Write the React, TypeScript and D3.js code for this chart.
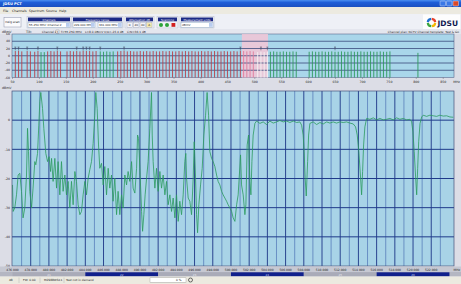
import * as d3 from "d3";

// detail trace (MHz, dBmV)
const traceMHz = [
  476.0, 476.07, 476.25, 476.44, 476.62, 476.8, 476.99, 477.16, 477.35, 477.54, 477.65, 477.76, 477.9,
  478.09, 478.26, 478.45, 478.56, 478.75, 478.89, 479.0, 479.11, 479.3, 479.44, 479.66, 479.85, 480.02,
  480.18, 480.29, 480.46, 480.65, 480.84, 481.01, 481.2, 481.38, 481.56, 481.75, 481.93, 482.11, 482.3,
  482.48, 482.66, 482.85, 483.03, 483.21, 483.4, 483.58, 483.76, 483.95, 484.13, 484.31, 484.49, 484.68,
  484.86, 485.04, 485.15, 485.3, 485.45, 485.59, 485.78, 485.96, 486.14, 486.33, 486.51, 486.69, 486.88,
  487.05, 487.24, 487.43, 487.6, 487.79, 487.98, 488.15, 488.34, 488.53, 488.7, 488.89, 489.08, 489.25,
  489.44, 489.63, 489.74, 489.85, 489.99, 490.18, 490.29, 490.43, 490.57, 490.73, 490.9, 491.09, 491.27,
  491.35, 491.45, 491.64, 491.82, 492.0, 492.19, 492.37, 492.55, 492.74, 492.92, 493.1, 493.29, 493.47,
  493.65, 493.84, 494.02, 494.2, 494.38, 494.57, 494.75, 494.93, 495.04, 495.12, 495.3, 495.48, 495.67,
  495.85, 495.96, 496.11, 496.22, 496.33, 496.47, 496.66, 496.84, 497.02, 497.21, 497.38, 497.54, 497.68,
  497.87, 498.04, 498.23, 498.42, 498.59, 498.78, 498.97, 499.14, 499.33, 499.52, 499.69, 499.88, 500.07,
  500.24, 500.43, 500.62, 500.79, 500.9, 501.05, 501.16, 501.34, 501.53, 501.64, 501.78, 501.93, 502.08,
  502.19, 502.3, 502.44, 502.63, 502.81, 503.18, 503.54, 503.91, 504.27, 504.64, 505.01, 505.37, 505.74,
  506.11, 506.47, 506.84, 507.21, 507.57, 507.76, 507.93, 508.04, 508.15, 508.27, 508.42, 508.53, 508.67,
  509.03, 509.41, 509.77, 510.13, 510.51, 510.87, 511.23, 511.6, 511.97, 512.33, 512.7, 513.07, 513.43,
  513.69, 513.87, 514.05, 514.24, 514.35, 514.46, 514.57, 514.71, 514.9, 515.26, 515.63, 516.0, 516.36,
  516.73, 517.1, 517.46, 517.82, 518.2, 518.56, 518.92, 519.3, 519.66, 519.85, 519.99, 520.13, 520.29,
  520.4, 520.51, 520.62, 520.77, 520.95, 521.12, 521.49, 521.85, 522.22, 522.59, 522.95, 523.32, 523.69,
  524.05, 524.42,
];
const traceDb = [
  -22.2, -31.3, -30.1, -25.6, -18.8, -18.2, -24.4, -33.5, -30.1, -18.8, -2.8, -10.8, -24.4,
  -30.1, -23.3, -14.2, -15.3, -11.4, -1.7, 6.3, 9.5, 4.0, -2.8, -11.4, -14.2, -12.5,
  -17.6, -13.1, -21.0, -13.1, -23.3, -14.2, -25.6, -14.2, -24.4, -18.8, -25.6, -21.0, -30.1,
  -21.0, -29.0, -17.6, -21.0, -29.0, -32.4, -31.3, -25.6, -21.0, -25.6, -19.9, -17.0, -14.2,
  -8.0, 1.7, 9.5, 4.0, -8.5, -16.5, -14.8, -22.2, -15.9, -25.6, -16.5, -23.3, -18.8,
  -27.8, -19.9, -32.4, -24.4, -32.4, -25.6, -30.1, -18.8, -22.2, -17.6, -21.0, -14.2, -23.3,
  -25.0, -16.5, -5.1, -6.3, -16.5, -31.3, -38.1, -32.4, -25.6, -19.9, -14.2, -2.8, 9.5,
  -5.1, -14.2, -23.3, -16.5, -24.4, -17.6, -23.3, -18.8, -25.6, -21.0, -29.0, -25.6, -31.3,
  -26.7, -33.5, -25.6, -34.7, -27.8, -32.4, -25.6, -14.2, -11.4, -19.9, -26.7, -27.8, -32.4,
  -19.9, -7.4, -19.9, -32.4, -38.6, -29.0, -22.2, -16.5, -5.1, 1.7, 9.5, 1.7, -10.8,
  -13.1, -14.2, -15.9, -18.8, -21.0, -22.2, -24.4, -25.6, -26.7, -27.8, -29.0, -30.1, -31.3,
  -33.5, -34.7, -29.0, -25.6, -19.9, -11.9, -22.2, -25.6, -32.4, -29.0, -8.5, -5.1, -21.0,
  -25.6, -14.2, -5.1, -1.1, -0.3, -1.1, -0.6, -1.5, -0.3, -1.0, -0.6, -0.1, -0.6,
  -0.3, -0.8, -0.3, -0.8, -0.6, -1.7, -5.1, -10.8, -19.9, -26.0, -14.2, -5.1, -1.1,
  -0.6, -1.5, -0.8, -1.3, -0.6, -1.0, -0.6, -1.0, -0.6, -0.8, -0.6, -1.0, -1.3,
  -2.3, -5.1, -10.8, -19.9, -25.6, -17.6, -8.5, -2.3, 0.6, 0.3, 0.8, 0.1, 0.6,
  0.1, 0.3, 0.6, 0.1, 0.8, 0.3, 0.6, 0.1, 0.3, -0.6, -4.0, -10.8, -19.9,
  -25.6, -16.5, -7.4, -1.1, 1.1, 1.7, 1.3, 1.7, 1.5, 1.3, 1.7, 1.4, 1.5,
  1.1, 1.0,
];

// overview carriers
const analogMHz = [
  55.25, 61.25, 67.25, 77.25, 83.25, 91.25, 97.25, 115.25, 121.25, 127.25, 133.25, 139.25,
  151.25, 157.25, 163.25, 169.25, 175.25, 181.25, 187.25, 193.25, 199.25, 205.25,
  245.25, 251.25, 257.25, 263.25, 269.25, 275.25, 281.25, 287.25, 293.25, 299.25, 305.25,
  311.25, 317.25, 323.25, 329.25, 335.25, 341.25, 347.25, 353.25, 359.25, 365.25, 371.25,
  377.25, 383.25, 389.25, 395.25, 401.25, 407.25, 413.25, 419.25, 425.25, 431.25, 437.25,
  443.25, 449.25, 455.25, 461.25, 467.25, 473.25, 479.25, 485.25, 491.25, 497.25,
];
const analogLevel = [
  13, 14, 12, 13, 12, 11, 13, 12, 13, 12, 14, 12,
  12, 13, 12, 13, 12, 14, 13, 13, 12, 13,
  12, 13, 14, 12, 13, 12, 12, 13, 12, 13, 12,
  13, 12, 12, 13, 12, 13, 12, 12, 13, 12, 13,
  12, 13, 12, 12, 13, 12, 13, 12, 13, 12, 12,
  13, 12, 12, 13, 12, 14, 13, 12, 13, 12,
];
const digitalMHz = [
  103, 109, 213, 219, 225, 231, 237, 505.4, 511.4, 517.4, 523.4, 529, 535, 541, 547, 553, 559,
  565, 571, 577, 601, 607, 613, 619, 625, 631, 637, 643, 649, 655, 661, 667, 673, 679, 685,
  691, 697, 703, 709, 715, 721, 727, 733, 739, 745, 751, 803,
];
const digitalLevel = [
  10, 10, 12, 11, 12, 11, 12, 10, 11, 10, 11, 11, 12, 11, 11, 12, 11,
  11, 12, 11, 11, 12, 11, 11, 12, 11, 11, 12, 11, 11, 12, 11, 11, 12, 11,
  11, 12, 11, 11, 12, 11, 11, 12, 11, 11, 12, 8,
];
const markerMHz = [55.25, 61.25, 77.25, 97.25, 133.25, 169.25, 181.25, 187.25, 193.25, 213, 257.25, 473.25, 511.4, 523.4, 649];

const overviewTicks = [50, 100, 150, 200, 250, 300, 350, 400, 450, 500, 550, 600, 650, 700, 750, 800, 850];
const overviewLevels = [60, 40, 20, 0, -20, -40, -60];
const detailTicks = [476, 478, 480, 482, 484, 486, 488, 490, 492, 494, 496, 498, 500, 502, 504, 506, 508, 510, 512, 514, 516, 518, 520, 522];
const detailGrid = [477, 479, 481, 483, 485, 487, 489, 491, 493, 495, 497, 499, 501, 503, 505, 507, 509, 511, 513, 515, 517, 519, 521, 523];
const detailLevels = [0, -10, -20, -30, -40, -50];
const bandEdges = [476, 484, 492, 500, 508, 516, 524];
const bandLabels = ["21", "22", "23", "24", "25", "26"];

const FONT = "'DejaVu Sans', 'Liberation Sans', sans-serif";

export default function App() {
  const W = 461;
  const H = 284;
  const ov = { l: 12, r: 454, t: 34, b: 77.5 };
  const mn = { l: 12, r: 454, t: 91, b: 266 };

  const xOv = d3.scaleLinear().domain([50, 870]).range([12.5, ov.r]);
  const yOv = d3.scaleLinear().domain([60, -60]).range([ov.t, ov.b]);
  const xMn = d3.scaleLinear().domain([476, 524.5]).range([12.5, mn.r]);
  const yMn = d3.scaleLinear().domain([10, -50]).range([mn.t, mn.b]);

  const trace = d3
    .line<number>()
    .x((_, i) => xMn(traceMHz[i]))
    .y((d) => yMn(d))(traceDb);

  const inZoom = (f: number) => f >= 476 && f <= 524.5;

  const ring = d3.arc<any>().innerRadius(2.6).outerRadius(4.8);
  const ringColors = ["#e8412c", "#f5b800", "#3aa53c", "#1e6fd0"];

  const groups = [
    { x: 27, w: 44, title: "Channels" },
    { x: 72, w: 51, title: "Frequency range" },
    { x: 125, w: 29, title: "Attenuation dB" },
    { x: 157, w: 21, title: "Scanning" },
    { x: 180, w: 34, title: "Measurement units" },
  ];

  const tiny = { fontFamily: FONT, fontSize: 3.2, fill: "#222" };
  const info = { ...tiny, fontSize: 2.9 };

  return (
    <svg
      width={W}
      height={H}
      style={{ position: "absolute", left: 0, top: 0, display: "block" }}
    >
      <defs>
        <linearGradient id="title" x1="0" y1="0" x2="0" y2="1">
          <stop offset="0" stopColor="#4b8ff0" />
          <stop offset="0.35" stopColor="#1e5ed8" />
          <stop offset="1" stopColor="#1a4fc0" />
        </linearGradient>
        <clipPath id="mclip">
          <rect x={mn.l} y={mn.t} width={mn.r - mn.l} height={mn.b - mn.t} />
        </clipPath>
      </defs>

      {/* window body */}
      <rect x={0} y={0} width={W} height={H} fill="#dcdde6" />

      {/* title bar */}
      <rect x={0} y={0} width={W} height={7} fill="url(#title)" />
      <text x={3} y={5} style={{ fontFamily: FONT, fontSize: 3.6, fill: "#fff", fontWeight: "bold" }}>JDSU PCT</text>
      <rect x={440} y={1} width={5.5} height={5} fill="#3a78e6" stroke="#fff" strokeWidth={0.4} rx={0.8} />
      <rect x={446.5} y={1} width={5.5} height={5} fill="#3a78e6" stroke="#fff" strokeWidth={0.4} rx={0.8} />
      <rect x={453} y={1} width={5.5} height={5} fill="#d9482a" stroke="#fff" strokeWidth={0.4} rx={0.8} />

      {/* menu */}
      <rect x={0} y={7} width={W} height={7} fill="#eceae0" />
      {[["File", 3], ["Channels", 12], ["Spectrum", 29], ["Source", 46], ["Help", 59]].map(([t, x]) => (
        <text key={t as string} x={x as number} y={12.2} style={tiny}>{t}</text>
      ))}

      {/* toolbar */}
      <rect x={0} y={14} width={W} height={15} fill="#eef0f6" />
      <rect x={4} y={17.5} width={17} height={9.5} fill="#fbfbfd" stroke="#8a8fa8" strokeWidth={0.5} />
      <text x={12.5} y={23.4} textAnchor="middle" style={{ ...tiny, fontSize: 3 }}>neig.scan</text>
      {groups.map((g) => (
        <g key={g.title}>
          <rect x={g.x} y={16.5} width={g.w} height={11.5} fill="none" stroke="#b8bccb" strokeWidth={0.5} />
          <rect x={g.x + 1} y={17.5} width={g.w - 2} height={3.8} fill="#1c2a86" />
          <text x={g.x + g.w / 2} y={20.5} textAnchor="middle" style={{ fontFamily: FONT, fontSize: 2.8, fill: "#fff" }}>{g.title}</text>
        </g>
      ))}
      {/* channel dropdown */}
      <rect x={28} y={22.5} width={42} height={4.8} fill="#fff" stroke="#7f9db9" strokeWidth={0.4} />
      <text x={29} y={26} style={{ ...tiny, fontSize: 2.8 }}>55.250 MHz: Channel 2</text>
      <rect x={66} y={23} width={3.6} height={3.8} fill="#b9cdf0" />
      {/* frequency range */}
      <rect x={73} y={22.5} width={22} height={4.8} fill="#fff" stroke="#7f9db9" strokeWidth={0.4} />
      <text x={74} y={26} style={{ ...tiny, fontSize: 2.8 }}>229.000 MHz</text>
      <rect x={91} y={23} width={3.6} height={3.8} fill="#b9cdf0" />
      <rect x={98} y={22.5} width={24} height={4.8} fill="#fff" stroke="#7f9db9" strokeWidth={0.4} />
      <text x={99} y={26} style={{ ...tiny, fontSize: 2.8 }}>331.000 MHz</text>
      <rect x={118} y={23} width={3.6} height={3.8} fill="#b9cdf0" />
      {/* attenuation */}
      {[["0", 127], ["20", 133.5], ["40", 140], ["A", 146.5]].map(([t, x]) => (
        <g key={t as string}>
          <rect x={x as number} y={22.5} width={5.5} height={4.8} fill={t === "A" ? "#f3e9b0" : "#f4f4f8"} stroke="#9aa0b8" strokeWidth={0.4} />
          <text x={(x as number) + 2.75} y={26} textAnchor="middle" style={{ ...tiny, fontSize: 2.8 }}>{t}</text>
        </g>
      ))}
      {/* scanning */}
      <circle cx={161} cy={24.9} r={2} fill="#2da33a" />
      <circle cx={167} cy={24.9} r={2} fill="#2da33a" />
      <rect x={171.5} y={23} width={3.8} height={3.8} fill="#d22020" />
      {/* units */}
      <rect x={181} y={22.5} width={32} height={4.8} fill="#fff" stroke="#7f9db9" strokeWidth={0.4} />
      <text x={182} y={26} style={{ ...tiny, fontSize: 2.8 }}>dBmV</text>
      <rect x={209} y={23} width={3.6} height={3.8} fill="#b9cdf0" />

      {/* logo */}
      <rect x={423} y={14.5} width={37} height={15} fill="#fdfdfd" />
      {ringColors.map((c, i) => (
        <path
          key={c}
          transform="translate(431.5,22.5)"
          d={ring({ startAngle: (i * Math.PI) / 2 + 0.08, endAngle: ((i + 1) * Math.PI) / 2 - 0.08 }) as string}
          fill={c}
        />
      ))}
      <text x={437.5} y={26} style={{ fontFamily: FONT, fontSize: 7.5, fontWeight: "bold", fill: "#101850" }}>JDSU</text>

      {/* info line */}
      <rect x={0} y={29} width={W} height={5} fill="#e4e6ee" />
      <text x={2} y={32.6} style={tiny}>dBmV</text>
      <text x={26} y={32.6} style={tiny}>Tilt:</text>
      <text x={42} y={32.6} style={info}>Channel 2</text>
      <rect x={56} y={30} width={3} height={3.2} fill="#fff" stroke="#666" strokeWidth={0.3} />
      <text x={57.5} y={32.6} textAnchor="middle" style={info}>3</text>
      <text x={61} y={32.6} style={info}>f=55.250 MHz</text>
      <text x={85} y={32.6} style={info}>L=8.0 dBmV</text>
      <text x={104} y={32.6} style={info}>V/A=-23.4 dB</text>
      <text x={127} y={32.6} style={info}>C/N=36.1 dB</text>
      <text x={459} y={32.6} textAnchor="end" style={info}>Channel plan: NCTV    Channel template: Test &amp; Go</text>

      {/* overview plot */}
      <rect x={ov.l} y={ov.t} width={ov.r - ov.l} height={ov.b - ov.t} fill="#a9d6ea" stroke="#5c6a8e" strokeWidth={0.6} />
      <rect x={xOv(476)} y={ov.t} width={xOv(524.5) - xOv(476)} height={ov.b - ov.t} fill="#f3c6d6" opacity={0.85} />
      {overviewLevels.slice(1, -1).map((v) => (
        <line key={v} x1={ov.l} x2={ov.r} y1={yOv(v)} y2={yOv(v)} stroke="#3b4a7c" strokeWidth={0.8} />
      ))}
      {analogMHz.map((f, i) => (
        <line
          key={"a" + f}
          x1={xOv(f)}
          x2={xOv(f)}
          y1={ov.b}
          y2={yOv(analogLevel[i])}
          stroke={inZoom(f) ? "#e07a9c" : "#b8404a"}
          strokeWidth={0.9}
        />
      ))}
      {digitalMHz.map((f, i) => (
        <line
          key={"d" + f}
          x1={xOv(f)}
          x2={xOv(f)}
          y1={ov.b}
          y2={yOv(digitalLevel[i])}
          stroke={inZoom(f) ? "#f4f4f4" : "#2f9a5c"}
          strokeWidth={0.9}
        />
      ))}
      {markerMHz.map((f) => (
        <g key={"m" + f} stroke="#3a3f55" strokeWidth={0.5}>
          <line x1={xOv(f)} x2={xOv(f)} y1={yOv(24)} y2={yOv(15)} />
          <line x1={xOv(f) - 1} x2={xOv(f) + 1} y1={yOv(24)} y2={yOv(24)} />
        </g>
      ))}
      {overviewLevels.map((v) => (
        <text key={v} x={10} y={yOv(v) + 1.2} textAnchor="end" style={tiny}>{v}</text>
      ))}
      {overviewTicks.map((t) => (
        <g key={t}>
          <line x1={xOv(t)} x2={xOv(t)} y1={ov.b} y2={ov.b + 1.5} stroke="#555" strokeWidth={0.4} />
          <text x={xOv(t)} y={82.5} textAnchor="middle" style={tiny}>{t}</text>
        </g>
      ))}
      <text x={460} y={82.5} textAnchor="end" style={tiny}>MHz</text>

      {/* detail plot */}
      <text x={2} y={89} style={tiny}>dBmV</text>
      <rect x={mn.l} y={mn.t} width={mn.r - mn.l} height={mn.b - mn.t} fill="#a8d3e7" />
      {detailGrid.map((f) => (
        <line key={f} x1={xMn(f)} x2={xMn(f)} y1={mn.t} y2={mn.b} stroke="#4d72b4" strokeWidth={0.7} />
      ))}
      {detailTicks.slice(1).map((f) => (
        <line key={f} x1={xMn(f)} x2={xMn(f)} y1={mn.t} y2={mn.b} stroke="#2a4590" strokeWidth={1} />
      ))}
      {detailLevels.slice(0, -1).map((v) => (
        <line key={v} x1={mn.l} x2={mn.r} y1={yMn(v)} y2={yMn(v)} stroke="#1f3a8a" strokeWidth={1} />
      ))}
      <path d={trace as string} fill="none" stroke="#2b9a5e" strokeWidth={0.8} clipPath="url(#mclip)" />
      <rect x={mn.l} y={mn.t} width={mn.r - mn.l} height={mn.b - mn.t} fill="none" stroke="#46507a" strokeWidth={0.7} />
      {detailLevels.map((v) => (
        <text key={v} x={10} y={yMn(v) + 1.2} textAnchor="end" style={tiny}>{v}</text>
      ))}

      {/* frequency labels */}
      <rect x={0} y={266.5} width={W} height={5.5} fill="#c6c8d2" />
      {detailTicks.map((t) => (
        <text key={t} x={xMn(t)} y={270.6} textAnchor="middle" style={{ ...tiny, fontSize: 3 }}>{t.toFixed(3)}</text>
      ))}
      <text x={460} y={270.6} textAnchor="end" style={{ ...tiny, fontSize: 3 }}>MHz</text>

      {/* channel strip */}
      <rect x={0} y={272} width={W} height={4.5} fill="#b4b6c2" />
      {bandLabels.map((lab, i) => {
        const x0 = xMn(bandEdges[i]);
        const x1 = xMn(bandEdges[i + 1]);
        return (
          <g key={lab}>
            <rect x={x0} y={272.3} width={x1 - x0} height={4} fill={i % 2 ? "#10208c" : "#a9abb8"} />
            <text x={(x0 + x1) / 2} y={275.5} textAnchor="middle" style={{ fontFamily: FONT, fontSize: 2.8, fill: i % 2 ? "#c8d0f0" : "#e8e8ee" }}>{lab}</text>
          </g>
        );
      })}

      {/* status bar */}
      <rect x={0} y={276.5} width={W} height={7.5} fill="#eceae0" />
      {[["48", 9], ["FW: 0.00", 23], ["M2988WS11", 44], ["Test not in demand", 66]].map(([t, x]) => (
        <text key={t as string} x={x as number} y={281.2} style={{ ...tiny, fontSize: 2.9 }}>{t}</text>
      ))}
      <line x1={19} x2={19} y1={277.5} y2={283} stroke="#aaa" strokeWidth={0.4} />
      <line x1={40} x2={40} y1={277.5} y2={283} stroke="#aaa" strokeWidth={0.4} />
      <line x1={64} x2={64} y1={277.5} y2={283} stroke="#aaa" strokeWidth={0.4} />
      <rect x={150} y={277.8} width={36} height={4.4} fill="#fff" stroke="#999" strokeWidth={0.4} />
      <text x={176} y={281.2} style={{ ...tiny, fontSize: 2.9 }}>0 %</text>
      <circle cx={190.5} cy={280} r={2} fill="none" stroke="#333" strokeWidth={0.7} />
    </svg>
  );
}
